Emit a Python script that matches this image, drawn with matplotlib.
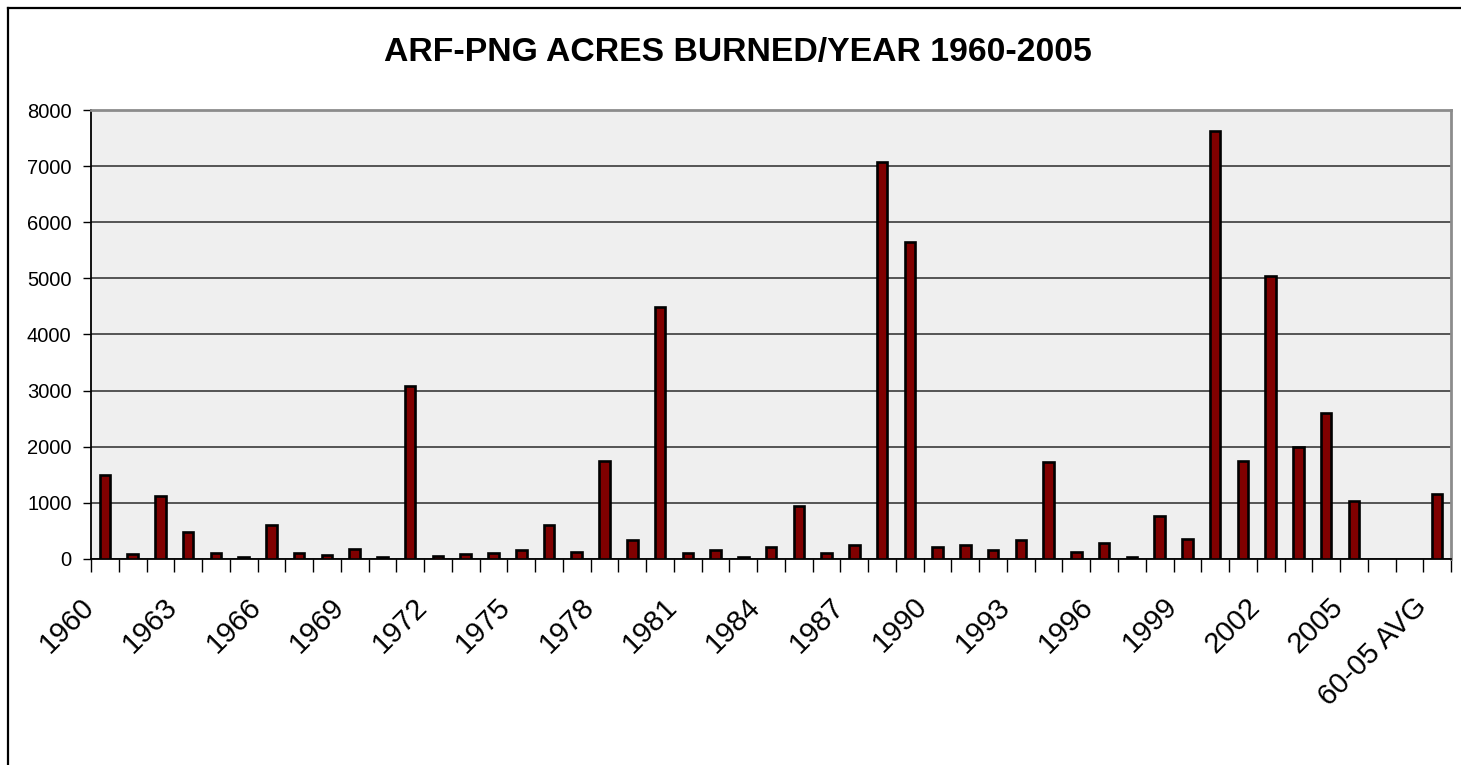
import numpy as np
import matplotlib
matplotlib.use("Agg")
import matplotlib.pyplot as plt
from matplotlib.lines import Line2D
from matplotlib.transforms import ScaledTranslation

plt.rcParams["font.family"] = ["Liberation Sans", "DejaVu Sans"]

# categories on the x axis (two empty slots before the average)
categories = [str(y) for y in range(1960, 2006)] + ["", "", "60-05 AVG"]

# acres burned per year, 1960-2005
acres = [1500, 90, 1130, 475, 113, 40, 610, 113, 70, 170,
         30, 3075, 45, 83, 107, 160, 600, 130, 1740, 338,
         4485, 113, 155, 30, 214, 938, 100, 249, 7065, 5640,
         214, 249, 154, 332, 1733, 131, 290, 40, 772, 362,
         7620, 1750, 5045, 2000, 2593, 1038]
avg_acres = 1163

values = acres + [np.nan, np.nan, avg_acres]
x = np.arange(len(categories))

fig = plt.figure(figsize=(14.61, 7.65), dpi=100)
ax = fig.add_axes([0.0623, 0.2693, 0.9309, 0.5869])

ax.set_facecolor("#efefef")

ax.bar(x, values, width=0.38, color="#800000", edgecolor="black",
       linewidth=1.9, zorder=3)

ax.set_xlim(-0.5, len(categories) - 0.5)
ax.set_ylim(0, 8000)
ax.set_yticks(np.arange(0, 8001, 1000))
ax.yaxis.grid(True, color="#2a2a2a", linewidth=1.1, zorder=1)
ax.tick_params(axis="y", direction="out", length=6, width=1,
               labelsize=14.5, pad=8)

# tick marks at category boundaries, labels every third category
ax.set_xticks(np.arange(-0.5, len(categories), 1.0))
ax.set_xticklabels([])
ax.tick_params(axis="x", which="major", direction="out", length=9, width=1)
label_pos = x[::3]
ax.set_xticks(label_pos, minor=True)
ax.set_xticklabels([categories[i] for i in label_pos], minor=True,
                   rotation=45, ha="right", va="top", fontsize=21)
ax.tick_params(axis="x", which="minor", length=0, pad=24)
shift = ScaledTranslation(-5 / 100, 0, fig.dpi_scale_trans)
for lbl in ax.get_xticklabels(minor=True):
    lbl.set_transform(lbl.get_transform() + shift)

ax.spines["left"].set_color("black")
ax.spines["bottom"].set_color("black")
ax.spines["left"].set_linewidth(1.3)
ax.spines["bottom"].set_linewidth(1.3)
ax.spines["top"].set_color("#8c8c8c")
ax.spines["right"].set_color("#8c8c8c")
ax.spines["top"].set_linewidth(2)
ax.spines["right"].set_linewidth(2)

fig.text(0.505, 1 - 53 / 765, "ARF-PNG ACRES BURNED/YEAR 1960-2005",
         ha="center", va="center", fontsize=24.3, fontweight="bold")

# chart frame (left and top edges visible)
fig.add_artist(Line2D([7.5 / 1461, 7.5 / 1461], [0, 1 - 8 / 765],
                      color="black", linewidth=1.6, transform=fig.transFigure))
fig.add_artist(Line2D([7.5 / 1461, 1], [1 - 8 / 765, 1 - 8 / 765],
                      color="black", linewidth=1.6, transform=fig.transFigure))

fig.savefig("out.png", dpi=100)
